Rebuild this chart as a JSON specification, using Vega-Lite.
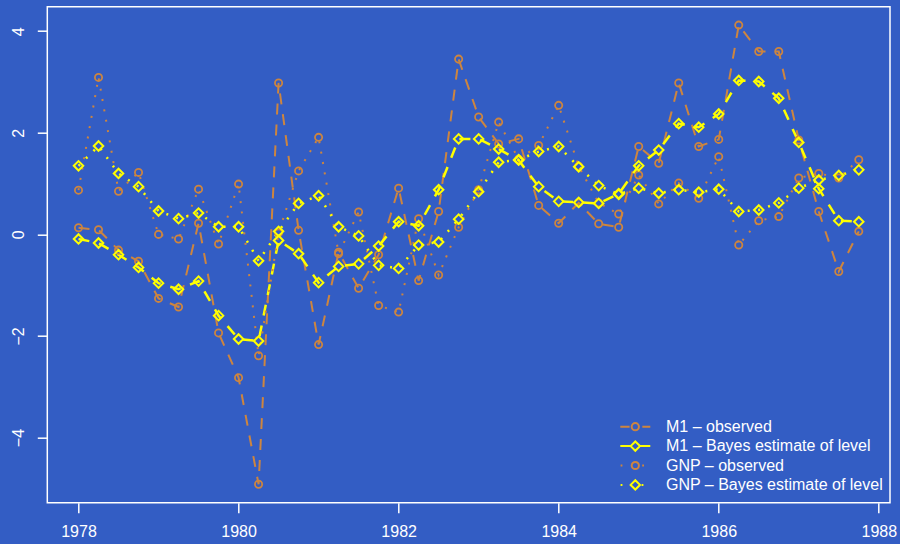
{
  "$schema": "https://vega.github.io/schema/vega-lite/v6.json",
  "width": 842.7,
  "height": 496,
  "autosize": {"type": "none"},
  "padding": {"left": 47.3, "top": 6.7, "right": 10, "bottom": 41.3},
  "background": "#335DC4",
  "config": {
    "view": {"stroke": "#FFFFFF", "strokeWidth": 1.5},
    "axis": {"domain": false, "grid": false, "tickColor": "#FFFFFF", "tickWidth": 1.5, "tickSize": 10, "labelColor": "#FFFFFF", "labelFont": "Liberation Sans", "labelFontSize": 16, "title": null}
  },
  "data": {"values": [
      {"t":1978.00,"series":"M1 – observed","value":0.13},{"t":1978.25,"series":"M1 – observed","value":0.09},{"t":1978.50,"series":"M1 – observed","value":-0.31},{"t":1978.75,"series":"M1 – observed","value":-0.53},
      {"t":1979.00,"series":"M1 – observed","value":-1.26},{"t":1979.25,"series":"M1 – observed","value":-1.43},{"t":1979.50,"series":"M1 – observed","value":0.22},{"t":1979.75,"series":"M1 – observed","value":-1.94},
      {"t":1980.00,"series":"M1 – observed","value":-2.82},{"t":1980.25,"series":"M1 – observed","value":-4.92},{"t":1980.50,"series":"M1 – observed","value":2.98},{"t":1980.75,"series":"M1 – observed","value":0.08},
      {"t":1981.00,"series":"M1 – observed","value":-2.17},{"t":1981.25,"series":"M1 – observed","value":-0.35},{"t":1981.50,"series":"M1 – observed","value":-1.06},{"t":1981.75,"series":"M1 – observed","value":-0.40},
      {"t":1982.00,"series":"M1 – observed","value":0.91},{"t":1982.25,"series":"M1 – observed","value":-0.91},{"t":1982.50,"series":"M1 – observed","value":0.45},{"t":1982.75,"series":"M1 – observed","value":3.45},
      {"t":1983.00,"series":"M1 – observed","value":2.31},{"t":1983.25,"series":"M1 – observed","value":1.78},{"t":1983.50,"series":"M1 – observed","value":1.88},{"t":1983.75,"series":"M1 – observed","value":0.57},
      {"t":1984.00,"series":"M1 – observed","value":0.22},{"t":1984.25,"series":"M1 – observed","value":0.62},{"t":1984.50,"series":"M1 – observed","value":0.21},{"t":1984.75,"series":"M1 – observed","value":0.14},
      {"t":1985.00,"series":"M1 – observed","value":1.73},{"t":1985.25,"series":"M1 – observed","value":1.40},{"t":1985.50,"series":"M1 – observed","value":2.98},{"t":1985.75,"series":"M1 – observed","value":1.73},
      {"t":1986.00,"series":"M1 – observed","value":1.87},{"t":1986.25,"series":"M1 – observed","value":4.12},{"t":1986.50,"series":"M1 – observed","value":3.60},{"t":1986.75,"series":"M1 – observed","value":3.60},
      {"t":1987.00,"series":"M1 – observed","value":1.86},{"t":1987.25,"series":"M1 – observed","value":0.45},{"t":1987.50,"series":"M1 – observed","value":-0.73},{"t":1987.75,"series":"M1 – observed","value":0.06},
      {"t":1978.00,"series":"M1 – Bayes estimate of level","value":-0.09},{"t":1978.25,"series":"M1 – Bayes estimate of level","value":-0.17},{"t":1978.50,"series":"M1 – Bayes estimate of level","value":-0.40},{"t":1978.75,"series":"M1 – Bayes estimate of level","value":-0.65},
      {"t":1979.00,"series":"M1 – Bayes estimate of level","value":-0.96},{"t":1979.25,"series":"M1 – Bayes estimate of level","value":-1.08},{"t":1979.50,"series":"M1 – Bayes estimate of level","value":-0.92},{"t":1979.75,"series":"M1 – Bayes estimate of level","value":-1.60},
      {"t":1980.00,"series":"M1 – Bayes estimate of level","value":-2.06},{"t":1980.25,"series":"M1 – Bayes estimate of level","value":-2.10},{"t":1980.50,"series":"M1 – Bayes estimate of level","value":-0.12},{"t":1980.75,"series":"M1 – Bayes estimate of level","value":-0.38},
      {"t":1981.00,"series":"M1 – Bayes estimate of level","value":-0.95},{"t":1981.25,"series":"M1 – Bayes estimate of level","value":-0.63},{"t":1981.50,"series":"M1 – Bayes estimate of level","value":-0.58},{"t":1981.75,"series":"M1 – Bayes estimate of level","value":-0.23},
      {"t":1982.00,"series":"M1 – Bayes estimate of level","value":0.25},{"t":1982.25,"series":"M1 – Bayes estimate of level","value":0.17},{"t":1982.50,"series":"M1 – Bayes estimate of level","value":0.88},{"t":1982.75,"series":"M1 – Bayes estimate of level","value":1.88},
      {"t":1983.00,"series":"M1 – Bayes estimate of level","value":1.88},{"t":1983.25,"series":"M1 – Bayes estimate of level","value":1.68},{"t":1983.50,"series":"M1 – Bayes estimate of level","value":1.46},{"t":1983.75,"series":"M1 – Bayes estimate of level","value":0.94},
      {"t":1984.00,"series":"M1 – Bayes estimate of level","value":0.65},{"t":1984.25,"series":"M1 – Bayes estimate of level","value":0.63},{"t":1984.50,"series":"M1 – Bayes estimate of level","value":0.61},{"t":1984.75,"series":"M1 – Bayes estimate of level","value":0.80},
      {"t":1985.00,"series":"M1 – Bayes estimate of level","value":1.35},{"t":1985.25,"series":"M1 – Bayes estimate of level","value":1.66},{"t":1985.50,"series":"M1 – Bayes estimate of level","value":2.18},{"t":1985.75,"series":"M1 – Bayes estimate of level","value":2.11},
      {"t":1986.00,"series":"M1 – Bayes estimate of level","value":2.37},{"t":1986.25,"series":"M1 – Bayes estimate of level","value":3.03},{"t":1986.50,"series":"M1 – Bayes estimate of level","value":3.01},{"t":1986.75,"series":"M1 – Bayes estimate of level","value":2.68},
      {"t":1987.00,"series":"M1 – Bayes estimate of level","value":1.81},{"t":1987.25,"series":"M1 – Bayes estimate of level","value":0.90},{"t":1987.50,"series":"M1 – Bayes estimate of level","value":0.27},{"t":1987.75,"series":"M1 – Bayes estimate of level","value":0.25},
      {"t":1978.00,"series":"GNP – observed","value":0.87},{"t":1978.25,"series":"GNP – observed","value":3.09},{"t":1978.50,"series":"GNP – observed","value":0.85},{"t":1978.75,"series":"GNP – observed","value":1.22},
      {"t":1979.00,"series":"GNP – observed","value":0.00},{"t":1979.25,"series":"GNP – observed","value":-0.09},{"t":1979.50,"series":"GNP – observed","value":0.89},{"t":1979.75,"series":"GNP – observed","value":-0.19},
      {"t":1980.00,"series":"GNP – observed","value":0.99},{"t":1980.25,"series":"GNP – observed","value":-2.39},{"t":1980.50,"series":"GNP – observed","value":0.03},{"t":1980.75,"series":"GNP – observed","value":1.25},
      {"t":1981.00,"series":"GNP – observed","value":1.91},{"t":1981.25,"series":"GNP – observed","value":-0.38},{"t":1981.50,"series":"GNP – observed","value":0.44},{"t":1981.75,"series":"GNP – observed","value":-1.40},
      {"t":1982.00,"series":"GNP – observed","value":-1.53},{"t":1982.25,"series":"GNP – observed","value":0.31},{"t":1982.50,"series":"GNP – observed","value":-0.80},{"t":1982.75,"series":"GNP – observed","value":0.14},
      {"t":1983.00,"series":"GNP – observed","value":0.88},{"t":1983.25,"series":"GNP – observed","value":2.21},{"t":1983.50,"series":"GNP – observed","value":1.48},{"t":1983.75,"series":"GNP – observed","value":1.75},
      {"t":1984.00,"series":"GNP – observed","value":2.54},{"t":1984.25,"series":"GNP – observed","value":1.34},{"t":1984.50,"series":"GNP – observed","value":0.62},{"t":1984.75,"series":"GNP – observed","value":0.40},
      {"t":1985.00,"series":"GNP – observed","value":1.17},{"t":1985.25,"series":"GNP – observed","value":0.60},{"t":1985.50,"series":"GNP – observed","value":1.01},{"t":1985.75,"series":"GNP – observed","value":0.71},
      {"t":1986.00,"series":"GNP – observed","value":1.53},{"t":1986.25,"series":"GNP – observed","value":-0.21},{"t":1986.50,"series":"GNP – observed","value":0.27},{"t":1986.75,"series":"GNP – observed","value":0.35},
      {"t":1987.00,"series":"GNP – observed","value":1.11},{"t":1987.25,"series":"GNP – observed","value":1.20},{"t":1987.50,"series":"GNP – observed","value":1.11},{"t":1987.75,"series":"GNP – observed","value":1.47},
      {"t":1978.00,"series":"GNP – Bayes estimate of level","value":1.35},{"t":1978.25,"series":"GNP – Bayes estimate of level","value":1.74},{"t":1978.50,"series":"GNP – Bayes estimate of level","value":1.20},{"t":1978.75,"series":"GNP – Bayes estimate of level","value":0.94},
      {"t":1979.00,"series":"GNP – Bayes estimate of level","value":0.46},{"t":1979.25,"series":"GNP – Bayes estimate of level","value":0.31},{"t":1979.50,"series":"GNP – Bayes estimate of level","value":0.42},{"t":1979.75,"series":"GNP – Bayes estimate of level","value":0.15},
      {"t":1980.00,"series":"GNP – Bayes estimate of level","value":0.15},{"t":1980.25,"series":"GNP – Bayes estimate of level","value":-0.52},{"t":1980.50,"series":"GNP – Bayes estimate of level","value":0.06},{"t":1980.75,"series":"GNP – Bayes estimate of level","value":0.61},
      {"t":1981.00,"series":"GNP – Bayes estimate of level","value":0.76},{"t":1981.25,"series":"GNP – Bayes estimate of level","value":0.15},{"t":1981.50,"series":"GNP – Bayes estimate of level","value":-0.03},{"t":1981.75,"series":"GNP – Bayes estimate of level","value":-0.61},
      {"t":1982.00,"series":"GNP – Bayes estimate of level","value":-0.67},{"t":1982.25,"series":"GNP – Bayes estimate of level","value":-0.21},{"t":1982.50,"series":"GNP – Bayes estimate of level","value":-0.15},{"t":1982.75,"series":"GNP – Bayes estimate of level","value":0.30},
      {"t":1983.00,"series":"GNP – Bayes estimate of level","value":0.84},{"t":1983.25,"series":"GNP – Bayes estimate of level","value":1.42},{"t":1983.50,"series":"GNP – Bayes estimate of level","value":1.47},{"t":1983.75,"series":"GNP – Bayes estimate of level","value":1.63},
      {"t":1984.00,"series":"GNP – Bayes estimate of level","value":1.73},{"t":1984.25,"series":"GNP – Bayes estimate of level","value":1.33},{"t":1984.50,"series":"GNP – Bayes estimate of level","value":0.96},{"t":1984.75,"series":"GNP – Bayes estimate of level","value":0.79},
      {"t":1985.00,"series":"GNP – Bayes estimate of level","value":0.91},{"t":1985.25,"series":"GNP – Bayes estimate of level","value":0.81},{"t":1985.50,"series":"GNP – Bayes estimate of level","value":0.88},{"t":1985.75,"series":"GNP – Bayes estimate of level","value":0.83},
      {"t":1986.00,"series":"GNP – Bayes estimate of level","value":0.89},{"t":1986.25,"series":"GNP – Bayes estimate of level","value":0.45},{"t":1986.50,"series":"GNP – Bayes estimate of level","value":0.48},{"t":1986.75,"series":"GNP – Bayes estimate of level","value":0.62},
      {"t":1987.00,"series":"GNP – Bayes estimate of level","value":0.91},{"t":1987.25,"series":"GNP – Bayes estimate of level","value":1.07},{"t":1987.50,"series":"GNP – Bayes estimate of level","value":1.16},{"t":1987.75,"series":"GNP – Bayes estimate of level","value":1.27}
  ]},
  "encoding": {
    "x": {"field": "t", "type": "quantitative", "scale": {"domain": [1977.61, 1988.14], "nice": false, "zero": false},
          "axis": {"values": [1978, 1980, 1982, 1984, 1986, 1988], "format": "d", "labelPadding": 11, "labelFlush": false}},
    "y": {"field": "value", "type": "quantitative", "scale": {"domain": [-5.282, 4.482], "nice": false, "zero": false},
          "axis": {"values": [-4, -2, 0, 2, 4], "labelAngle": -90, "labelAlign": "center", "labelBaseline": "bottom", "labelPadding": 11, "labelFlush": false}}
  },
  "layer": [
    {
      "transform": [{"filter": "datum.series == 'M1 – observed'"}],
      "mark": {"type": "line", "color": "#CD853F", "strokeWidth": 2, "strokeCap": "butt", "strokeDash": [11, 10]}
    },
    {
      "transform": [{"filter": "datum.series == 'M1 – Bayes estimate of level'"}],
      "mark": {"type": "line", "color": "#FFFF00", "strokeWidth": 2.5, "strokeCap": "butt", "strokeDash": [11, 10]}
    },
    {
      "transform": [{"filter": "datum.series == 'GNP – observed'"}],
      "mark": {"type": "line", "color": "#CD853F", "strokeWidth": 2, "strokeCap": "butt", "strokeDash": [2, 8.5]}
    },
    {
      "transform": [{"filter": "datum.series == 'GNP – Bayes estimate of level'"}],
      "mark": {"type": "line", "color": "#FFFF00", "strokeWidth": 2.5, "strokeCap": "butt", "strokeDash": [2, 8.5]}
    },
    {
      "transform": [{"filter": "indexof(datum.series, 'observed') >= 0"}],
      "mark": {"type": "point", "shape": "circle", "filled": false, "stroke": "#CD853F", "strokeWidth": 1.8, "size": 52, "opacity": 1}
    },
    {
      "transform": [{"filter": "indexof(datum.series, 'Bayes') >= 0"}],
      "mark": {"type": "point", "shape": "diamond", "filled": false, "stroke": "#FFFF00", "strokeWidth": 2, "size": 90, "opacity": 1}
    },
    {
      "mark": {"type": "point", "filled": false, "strokeWidth": 2, "opacity": 0},
      "encoding": {
        "color": {"field": "series", "type": "nominal",
          "scale": {"domain": ["M1 – observed", "M1 – Bayes estimate of level", "GNP – observed", "GNP – Bayes estimate of level"],
                    "range": ["#CD853F", "#FFFF00", "#CD853F", "#FFFF00"]},
          "legend": {"title": null, "orient": "none", "legendX": 580, "legendY": 412, "padding": 0,
                     "symbolSize": 144, "symbolStrokeWidth": 2, "symbolOpacity": 1, "labelColor": "#FFFFFF", "labelFont": "Liberation Sans",
                     "labelFontSize": 16, "labelOffset": 22.7, "rowPadding": 2.4, "labelLimit": 400}},
        "shape": {"field": "series", "type": "nominal",
          "scale": {"domain": ["M1 – observed", "M1 – Bayes estimate of level", "GNP – observed", "GNP – Bayes estimate of level"],
                    "range": [
                      "M-2.5,0L-0.95,0M1.17,0L2.5,0M0.6,0A0.6,0.6,0,1,1,-0.6,0A0.6,0.6,0,1,1,0.6,0",
                      "M-2.5,0L-0.78,0M0.78,0L2.5,0M-0.78,0L0,-0.78L0.78,0L0,0.78Z",
                      "M-2.45,0L-2.15,0M1.15,0L1.45,0M0.6,0A0.6,0.6,0,1,1,-0.6,0A0.6,0.6,0,1,1,0.6,0",
                      "M-2.45,0L-2.15,0M1.05,0L1.35,0M-0.78,0L0,-0.78L0.78,0L0,0.78Z"
                    ]},
          "legend": {"title": null, "orient": "none", "legendX": 580, "legendY": 412, "padding": 0,
                     "symbolSize": 144, "symbolStrokeWidth": 2, "symbolOpacity": 1, "labelColor": "#FFFFFF", "labelFont": "Liberation Sans",
                     "labelFontSize": 16, "labelOffset": 22.7, "rowPadding": 2.4, "labelLimit": 400}}
      }
    }
  ]
}
